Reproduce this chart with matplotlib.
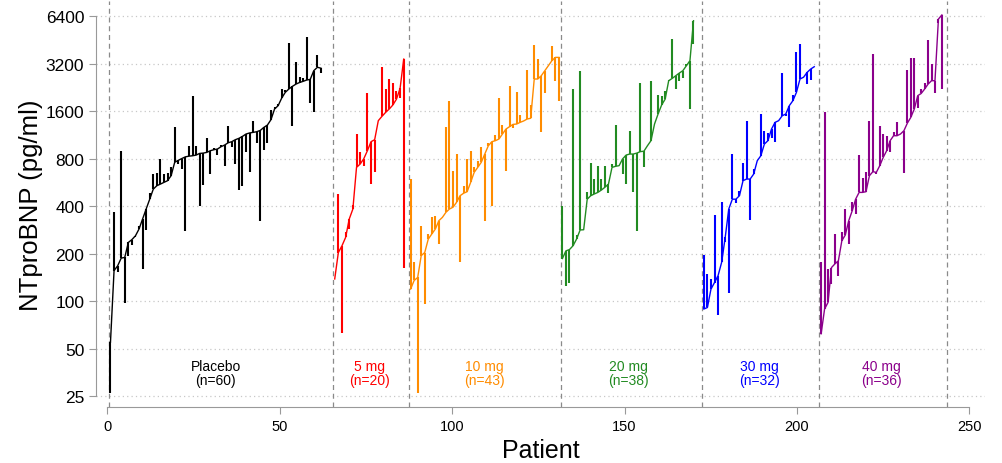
import numpy as np
import matplotlib.pyplot as plt

plt.rcParams['font.family'] = ['Liberation Sans', 'DejaVu Sans']

# groups, colours and patient index ranges
groups = ["Placebo", "5 mg", "10 mg", "20 mg", "30 mg", "40 mg"]
colors = ["black", "red", "darkorange", "forestgreen", "blue", "darkmagenta"]
first_patient = [1, 66, 88, 132, 173, 207]
last_patient = [62, 86, 131, 170, 205, 242]
dividers = [0.5, 65.5, 87.5, 131.5, 172.5, 206.5, 243.5]

# NTproBNP (pg/ml): baseline (on the line) and follow-up (end of spike), per patient
placebo_base = [55, 156, 167, 187, 189, 235, 245, 259, 286, 331, 383, 442, 512, 538, 551,
                565, 579, 623, 757, 779, 800, 820, 828, 833, 841, 862, 866, 875, 897, 910,
                919, 951, 974, 1007, 1023, 1053, 1074, 1105, 1144, 1162, 1172, 1183, 1206, 1260, 1304,
                1411, 1647, 1730, 1932, 2101, 2205, 2293, 2370, 2426, 2467, 2515, 2539, 2883, 3030, 2990]
placebo_fu = [26, 368, 152, 897, 97, 192, 226, 253, 300, 159, 282, 482, 638, 648, 795,
              638, 648, 704, 1261, 738, 686, 279, 955, 1981, 958, 398, 543, 1073, 638, 932,
              842, 980, 714, 1279, 944, 738, 508, 538, 875, 660, 1390, 998, 320, 910, 1003,
              1616, 1686, 1769, 2205, 2180, 4317, 1293, 3256, 2614, 2600, 4688, 1800, 1570, 3623, 2800]

mg5_base = [138, 203, 224, 253, 331, 383, 703, 738, 797, 897,
            1023, 1053, 1390, 1480, 1567, 1647, 1746, 1903, 2227, 3413]
mg5_fu = [138, 476, 63, 272, 286, 406, 1144, 875, 720, 2070,
          551, 654, 1390, 3024, 2205, 2553, 2426, 2153, 1925, 163]

mg10_base = [119, 135, 141, 194, 203, 247, 266, 286, 323, 339,
             365, 383, 393, 422, 465, 482, 493, 565, 654, 703,
             757, 854, 964, 1023, 1038, 1063, 1144, 1230, 1273, 1317,
             1323, 1356, 1384, 1424, 1440, 2553, 2553, 2679, 2883, 3100,
             3336, 3500, 3500]
mg10_fu = [593, 176, 26, 300, 96, 266, 339, 348, 230, 339,
           1273, 1860, 670, 854, 176, 533, 797, 897, 703, 775,
           944, 323, 1003, 400, 1128, 1925, 1304, 670, 2316, 1250,
           2101, 1509, 1384, 2910, 1746, 4190, 3413, 1172, 2070, 3100,
           4150, 2491, 1860]

mg20_base = [186, 208, 212, 224, 247, 282, 283, 442, 465, 477,
             488, 505, 526, 551, 703, 714, 721, 796, 842, 854,
             854, 866, 885, 890, 964, 1038, 1323, 1532, 1746, 1903,
             2491, 2577, 2679, 2785, 2883, 3100, 3336, 5978]
mg20_fu = [400, 125, 131, 2205, 262, 2883, 283, 493, 749, 593,
           721, 593, 714, 484, 738, 1304, 721, 638, 551, 1189,
           488, 279, 2408, 703, 964, 2467, 1323, 2020, 2000, 2153,
           2530, 4573, 2205, 2491, 2600, 3190, 1647, 4283]

mg30_base = [89, 91, 119, 131, 145, 176, 253, 383, 442, 442,
             465, 579, 593, 593, 638, 775, 833, 988, 1038, 1230,
             1356, 1390, 1493, 1532, 1730, 1860, 2101, 2553, 2620, 2812,
             2952, 3054]
mg30_fu = [196, 148, 138, 351, 82, 426, 235, 112, 854, 421,
           500, 746, 1375, 326, 686, 775, 1532, 1201, 1162, 1080,
           1023, 1390, 2785, 1493, 1272, 2020, 3805, 4250, 2620, 2370,
           2530, 3054]

mg40_base = [62, 89, 98, 163, 172, 180, 241, 262, 323, 373,
             442, 488, 488, 493, 623, 660, 654, 721, 814, 897,
             1038, 1116, 1116, 1144, 1201, 1342, 1459, 1647, 2002, 2067,
             2205, 2370, 2491, 2491, 6124, 6500]
mg40_fu = [176, 1569, 160, 128, 266, 145, 272, 383, 230, 422,
           355, 846, 606, 654, 1390, 3676, 638, 1293, 1144, 1118,
           875, 1172, 1356, 1144, 648, 2910, 3455, 3455, 1663, 2205,
           2408, 4510, 3200, 2070, 5800, 2200]

y_ticks = [25, 50, 100, 200, 400, 800, 1600, 3200, 6400]
x_ticks = [0, 50, 100, 150, 200, 250]

base_all = [placebo_base, mg5_base, mg10_base, mg20_base, mg30_base, mg40_base]
fu_all = [placebo_fu, mg5_fu, mg10_fu, mg20_fu, mg30_fu, mg40_fu]

fig = plt.figure(figsize=(10.03, 4.64), dpi=100)
ax = fig.add_axes([96 / 1003, 56 / 464, 889 / 1003, 406 / 464])
ax.set_yscale('log', base=2)
ax.set_xlim(-3.2, 254.5)
ax.set_ylim(21.3, 7970)

for t in y_ticks:
    ax.axhline(t, color='#c8c8c8', ls=(0, (1, 2.5)), lw=0.9, zorder=0)
for d in dividers:
    ax.axvline(d, color='#8a8a8a', ls=(0, (4, 3)), lw=0.9, zorder=0)

for name, col, x0, x1, base, fu in zip(groups, colors, first_patient, last_patient, base_all, fu_all):
    x = np.linspace(x0, x1, len(base))
    ax.vlines(x, base, fu, color=col, lw=1.5)
    ax.plot(x, base, color=col, lw=1.0)
    ax.text((x0 + x1) / 2, 35, f"{name}\n(n={len(base)})", ha='center', va='center',
            color=col, fontsize=10, linespacing=1.0)

for s in ['top', 'right']:
    ax.spines[s].set_visible(False)
for s in ['left', 'bottom']:
    ax.spines[s].set_color('#999999')
ax.spines['left'].set_bounds(25, 6400)
ax.spines['bottom'].set_bounds(0, 250)
ax.set_yticks(y_ticks)
ax.set_yticklabels([str(t) for t in y_ticks])
ax.yaxis.set_minor_locator(plt.NullLocator())
ax.set_xticks(x_ticks)
ax.tick_params(colors='#999999', labelcolor='black', labelsize=10.5, length=5)
ax.tick_params(axis='y', labelsize=12.5)
ax.set_xlabel("Patient", fontsize=18)
ax.set_ylabel("NTproBNP (pg/ml)", fontsize=18.5, labelpad=2)

fig.savefig("out.png", dpi=100)
